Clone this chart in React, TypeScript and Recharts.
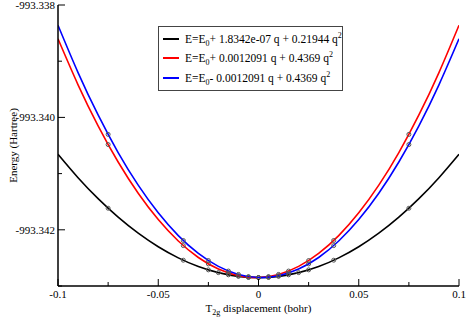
import React from "react";
import { ComposedChart, Line, Scatter, XAxis, YAxis, Legend } from "recharts";

// fitted curves, sampled every 0.01 bohr
const qGrid = [-0.1, -0.09, -0.08, -0.07, -0.06, -0.05, -0.04, -0.03, -0.02, -0.01, 0, 0.01, 0.02, 0.03, 0.04, 0.05, 0.06, 0.07, 0.08, 0.09, 0.1];
const blackFit = [
  -993.340656, -993.341073, -993.341446, -993.341775, -993.34206, -993.342301, -993.342499, -993.342653, -993.342762, -993.342828,
  -993.34285,
  -993.342828, -993.342762, -993.342653, -993.342499, -993.342301, -993.34206, -993.341775, -993.341446, -993.341073, -993.340656,
];
const redFit = [
  -993.338602, -993.33942, -993.34015, -993.340794, -993.34135, -993.341818, -993.342199, -993.342493, -993.342699, -993.342818,
  -993.34285,
  -993.342794, -993.342651, -993.34242, -993.342103, -993.341697, -993.341205, -993.340625, -993.339957, -993.339202, -993.33836,
];
const blueFit = [
  -993.33836, -993.339202, -993.339957, -993.340625, -993.341205, -993.341697, -993.342103, -993.34242, -993.342651, -993.342794,
  -993.34285,
  -993.342818, -993.342699, -993.342493, -993.342199, -993.341818, -993.34135, -993.340794, -993.34015, -993.33942, -993.338602,
];

// computed points (markers)
const blackQ = [-0.075, -0.0375, -0.025, -0.02, -0.015, -0.01, -0.005, 0, 0.005, 0.01, 0.015, 0.02, 0.025, 0.0375, 0.075];
const blackE = [
  -993.341616, -993.342541, -993.342713, -993.342762, -993.342801, -993.342828, -993.342845, -993.34285,
  -993.342845, -993.342828, -993.342801, -993.342762, -993.342713, -993.342541, -993.341616,
];
const rbQ = [-0.075, -0.0375, -0.025, -0.015, -0.01, -0.005, 0, 0.005, 0.01, 0.015, 0.025, 0.0375, 0.075];
const redE = [
  -993.340483, -993.342281, -993.342607, -993.34277, -993.342818, -993.342845, -993.34285,
  -993.342833, -993.342794, -993.342734, -993.342547, -993.34219, -993.340302,
];
const blueE = [
  -993.340302, -993.34219, -993.342547, -993.342734, -993.342794, -993.342833, -993.34285,
  -993.342845, -993.342818, -993.34277, -993.342607, -993.342281, -993.340483,
];

const xTicks = [-0.1, -0.075, -0.05, -0.025, 0, 0.025, 0.05, 0.075, 0.1];
const yTicks = [-993.343, -993.342, -993.341, -993.34, -993.339, -993.338];

const legendTerms = ["+ 1.8342e-07 q + 0.21944 q", "+ 0.0012091 q + 0.4369 q", "- 0.0012091 q + 0.4369 q"];
const colors = ["#000000", "#ff0000", "#0000ff"];

const toPts = (qs: number[], es: number[]) => qs.map((q, i) => ({ q, e: es[i] }));
const blackCurve = toPts(qGrid, blackFit);
const redCurve = toPts(qGrid, redFit);
const blueCurve = toPts(qGrid, blueFit);

const FONT = "Liberation Serif, Times New Roman, Times, DejaVu Serif, serif";

const xMajor = (v: number) => Math.abs(Math.round(v * 1000)) % 50 === 0;
const yMajor = (v: number) => Math.abs(Math.round(v * 1000)) % 2 === 0;

const BottomTick = (p: any) => {
  const v = p.payload.value;
  const big = xMajor(v);
  return (
    <g>
      <line x1={p.x} x2={p.x} y1={p.y} y2={p.y - (big ? 7 : 4)} stroke="#000" strokeWidth={1} />
      {big && (
        <text x={p.x} y={p.y + 12} textAnchor="middle" fontSize={11} fontFamily={FONT} fill="#000">
          {String(v)}
        </text>
      )}
    </g>
  );
};

const TopTick = (p: any) => {
  const big = xMajor(p.payload.value);
  return <line x1={p.x} x2={p.x} y1={p.y} y2={p.y + (big ? 7 : 4)} stroke="#000" strokeWidth={1} />;
};

const LeftTick = (p: any) => {
  const v = p.payload.value;
  const big = yMajor(v);
  return (
    <g>
      <line x1={p.x} x2={p.x + (big ? 7 : 4)} y1={p.y} y2={p.y} stroke="#000" strokeWidth={1} />
      {big && (
        <text x={p.x - 3} y={p.y} dy="0.35em" textAnchor="end" fontSize={11} fontFamily={FONT} fill="#000">
          {v.toFixed(3)}
        </text>
      )}
    </g>
  );
};

const RightTick = (p: any) => {
  const big = yMajor(p.payload.value);
  return <line x1={p.x} x2={p.x - (big ? 7 : 4)} y1={p.y} y2={p.y} stroke="#000" strokeWidth={1} />;
};

const Marker = (p: any) => <circle cx={p.cx} cy={p.cy} r={2} fill="none" stroke="#555" strokeWidth={1} />;

// legend rows in the order of legendTerms, whatever order recharts hands them over
const renderLegend = () => (
  <div style={{ fontFamily: FONT, fontSize: 11.5, color: "#000", paddingTop: 2 }}>
    {legendTerms.map((term, i) => (
      <div key={i} style={{ height: 19.5, display: "flex", alignItems: "center", whiteSpace: "nowrap" }}>
        <span style={{ display: "inline-block", width: 16, height: 2, background: colors[i], marginLeft: 4, marginRight: 6 }} />
        <span>
          E=E<span style={{ fontSize: 8, position: "relative", top: 3 }}>0</span>
          {term}
          <span style={{ fontSize: 8, position: "relative", top: -5 }}>2</span>
        </span>
      </div>
    ))}
  </div>
);

const XLabel = (props: any) => {
  const vb = props.viewBox;
  return (
    <text x={vb.x + vb.width / 2} y={vb.y + 26} textAnchor="middle" fontSize={11} fontFamily={FONT} fill="#000">
      T<tspan fontSize={8} dy={3}>2g</tspan>
      <tspan dy={-3}> displacement (bohr)</tspan>
    </text>
  );
};

const YLabel = (props: any) => {
  const vb = props.viewBox;
  const cx = vb.x + 5;
  const cy = vb.y + vb.height / 2;
  return (
    <text x={cx} y={cy} dy="0.35em" textAnchor="middle" fontSize={11} fontFamily={FONT} fill="#000" transform={`rotate(-90 ${cx} ${cy})`}>
      Energy (Hartree)
    </text>
  );
};

export default function App() {
  return (
    <div style={{ position: "absolute", left: 0, top: 0, width: 467, height: 317, background: "#fff" }}>
      <ComposedChart width={467} height={317} margin={{ top: 5, right: 8, bottom: 6, left: 8 }}>
        <XAxis
          dataKey="q"
          type="number"
          domain={[-0.1, 0.1]}
          ticks={xTicks}
          allowDataOverflow
          interval={0}
          height={25}
          tickSize={0}
          tickMargin={0}
          tickLine={false}
          tick={BottomTick}
          axisLine={{ stroke: "#000", strokeWidth: 1.5 }}
          label={XLabel}
        />
        <XAxis
          xAxisId="top"
          orientation="top"
          type="number"
          domain={[-0.1, 0.1]}
          ticks={xTicks}
          allowDataOverflow
          interval={0}
          height={0}
          tickSize={0}
          tickMargin={0}
          tickLine={false}
          tick={TopTick}
          axisLine={{ stroke: "#000", strokeWidth: 1.5 }}
        />
        <YAxis
          dataKey="e"
          type="number"
          domain={[-993.343, -993.338]}
          ticks={yTicks}
          allowDataOverflow
          interval={0}
          width={50}
          tickSize={0}
          tickMargin={0}
          tickLine={false}
          tick={LeftTick}
          axisLine={{ stroke: "#000", strokeWidth: 1.5 }}
          label={YLabel}
        />
        <YAxis
          yAxisId="right"
          orientation="right"
          type="number"
          domain={[-993.343, -993.338]}
          ticks={yTicks}
          allowDataOverflow
          interval={0}
          width={0}
          tickSize={0}
          tickMargin={0}
          tickLine={false}
          tick={RightTick}
          axisLine={{ stroke: "#000", strokeWidth: 1.5 }}
        />
        <Legend
          layout="horizontal"
          verticalAlign="middle"
          align="center"
          content={renderLegend}
          wrapperStyle={{
            left: 158,
            top: 26,
            width: 185,
            height: 65,
            border: "1px solid #444",
            background: "#fff",
            boxSizing: "border-box",
          }}
        />
        <Line data={blackCurve} dataKey="e" name={legendTerms[0]} type="natural" stroke={colors[0]} strokeWidth={1.6} dot={false} isAnimationActive={false} />
        <Line data={redCurve} dataKey="e" name={legendTerms[1]} type="natural" stroke={colors[1]} strokeWidth={1.6} dot={false} isAnimationActive={false} />
        <Line data={blueCurve} dataKey="e" name={legendTerms[2]} type="natural" stroke={colors[2]} strokeWidth={1.6} dot={false} isAnimationActive={false} />
        <Scatter data={toPts(blackQ, blackE)} dataKey="e" legendType="none" shape={Marker} isAnimationActive={false} />
        <Scatter data={toPts(rbQ, redE)} dataKey="e" legendType="none" shape={Marker} isAnimationActive={false} />
        <Scatter data={toPts(rbQ, blueE)} dataKey="e" legendType="none" shape={Marker} isAnimationActive={false} />
      </ComposedChart>
    </div>
  );
}
